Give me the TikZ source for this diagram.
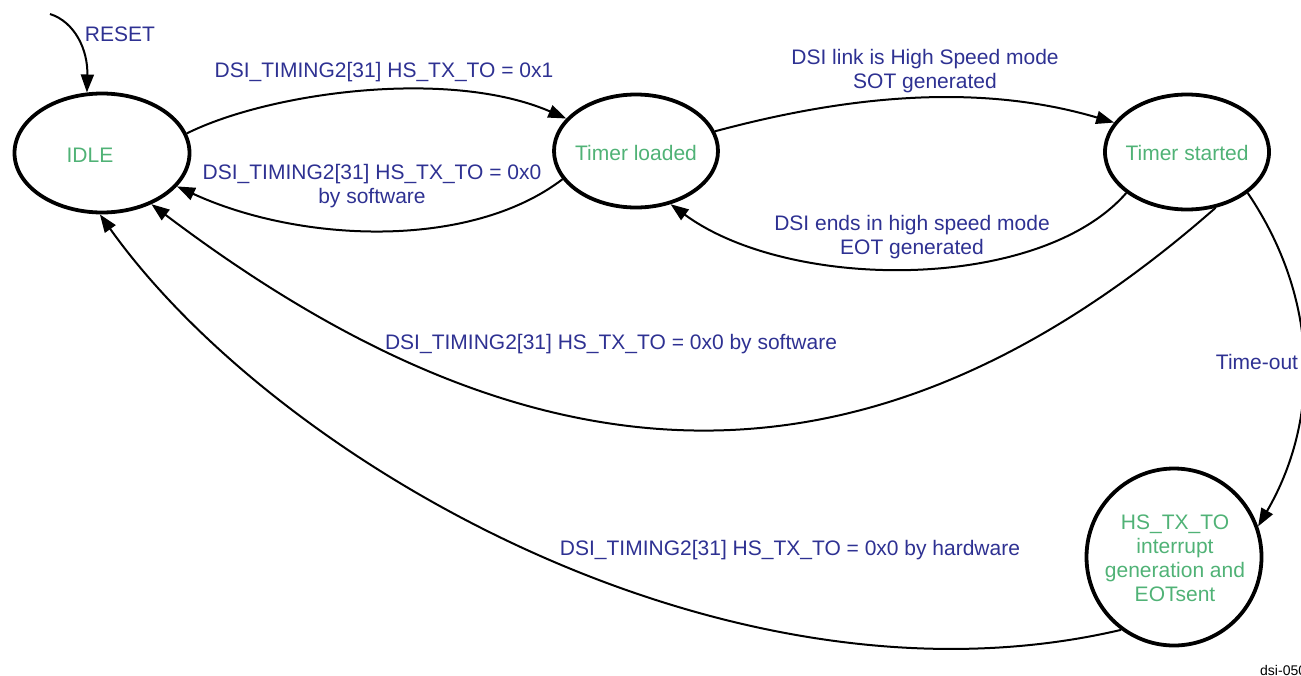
\documentclass[tikz,border=0pt]{standalone}
\usepackage{fontspec}
\setmainfont{Liberation Sans}
\usetikzlibrary{shapes.geometric,arrows.meta}
\definecolor{lblblue}{RGB}{46,49,146}
\definecolor{stgreen}{RGB}{80,178,118}
\begin{document}
\begin{tikzpicture}[x=1pt,y=-1pt,
  state/.style={draw=black, line width=3.8pt, ellipse, inner sep=0pt},
  stxt/.style={text=stgreen, font=\fontsize{21}{24}\selectfont, align=center, inner sep=0pt},
  lbl/.style={text=lblblue, font=\fontsize{21}{24}\selectfont, align=center, inner sep=0pt},
  tr/.style={draw=black, line width=2pt, -{Triangle[length=18pt,width=13pt]}},
]
\useasboundingbox (0,0) rectangle (1301,675);
\clip (0,0) rectangle (1301,675);

% states
\node[state, minimum width=175pt, minimum height=119pt] (idle) at (102,153) {};
\node[state, minimum width=164pt, minimum height=113pt] (tl) at (636,151) {};
\node[state, minimum width=164pt, minimum height=115pt] (ts) at (1187,152) {};
\node[state, minimum width=175pt, minimum height=177pt] (hs) at (1174,557) {};

\node[stxt] (idletxt) at (90,155) {IDLE};
\node[stxt] (tltxt) at (636,152.5) {Timer loaded};
\node[stxt] (tstxt) at (1187,152.5) {Timer started};
\node[stxt] (hstxt) at (1175,558) {HS\_TX\_TO\\interrupt\\generation and\\EOTsent};

% reset
\coordinate (reset) at (50,14);
\draw[tr] (reset) .. controls (75,22) and (88,50) .. (idle.104.5);
\node[lbl] (resetlbl) at (120,34) {RESET};

% transitions
\draw[tr] (idle.13.9) .. controls (270,92) and (450,68) .. (tl.155.5);
\node[lbl] (l1) at (384,72) {DSI\_TIMING2[31] HS\_TX\_TO = 0x1};

\draw[tr] (tl.-159) .. controls (470,250) and (300,243) .. (idle.-24.8);
\node[lbl] (l2) at (372,186) {DSI\_TIMING2[31] HS\_TX\_TO = 0x0\\by software};

\draw[tr] (tl.14) .. controls (850,95) and (980,83) .. (ts.158.6);
\node[lbl] (l3) at (925,71) {DSI link is High Speed mode\\SOT generated};

\draw[tr] (ts.-146) .. controls (1040,292) and (790,292) .. (tl.-57);
\node[lbl] (l4) at (912,237) {DSI ends in high speed mode\\EOT generated};

\draw[tr] (ts.-63.4) .. controls (859,521) and (524,486) .. (idle.-46.5);
\node[lbl] (l5) at (611,344) {DSI\_TIMING2[31] HS\_TX\_TO = 0x0 by software};

\draw[tr] (hs.-126.5) .. controls (728,722) and (277,463) .. (idle.-92);
\node[lbl] (l6) at (790,550) {DSI\_TIMING2[31] HS\_TX\_TO = 0x0 by hardware};

\draw[tr] (ts.-34) .. controls (1320,300) and (1320,420) .. (hs.20.9);
\node[lbl] (l7) at (1257,362) {Time-out};

\node[anchor=west, inner sep=0pt, font=\fontsize{14}{16}\selectfont] (fig) at (1260,670) {dsi-050};
\end{tikzpicture}
\end{document}
